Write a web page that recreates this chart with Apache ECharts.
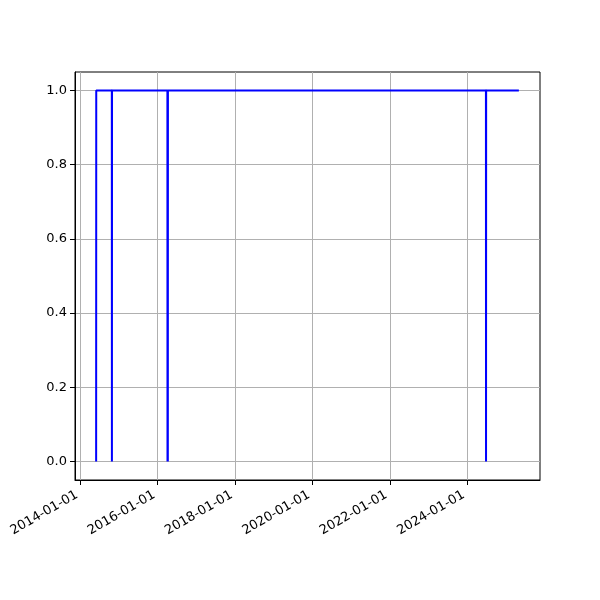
<!DOCTYPE html>
<html>
<head>
<meta charset="utf-8">
<script src="https://cdn.jsdelivr.net/npm/echarts@6/dist/echarts.min.js"></script>
<style>html,body{margin:0;padding:0;background:#fff}#c{width:600px;height:600px}</style>
</head>
<body>
<div id="c"></div>
<script>
var dates = ['2014-05-30','2014-05-31','2014-10-25','2014-10-26','2014-10-27',
             '2016-04-02','2016-04-03','2016-04-04','2016-04-06','2016-04-07',
             '2024-06-27','2024-06-28','2024-06-29','2025-05-04'];
var values = [0,1,1,0,1, 1,0,1,0,1, 1,0,1,1];
var xTicks = ['2014-01-01','2016-01-01','2018-01-01','2020-01-01','2022-01-01','2024-01-01'];
var yTicks = [0,0.2,0.4,0.6,0.8,1.0];

var data = dates.map(function(d,i){ return [new Date(d+'T00:00:00Z').getTime(), values[i]]; });
var xTickVals = xTicks.map(function(d){ return new Date(d+'T00:00:00Z').getTime(); });
var t0 = data[0][0], t1 = data[data.length-1][0], span = t1 - t0;

var chart = echarts.init(document.getElementById('c'));
var font = 'DejaVu Sans';
chart.setOption({
  animation: false,
  grid: {left: 75, right: 60, top: 72, bottom: 120, show: true, borderColor: '#000', borderWidth: 1, backgroundColor: '#fff'},
  xAxis: {
    type: 'value',
    min: t0 - span*0.05, max: t1 + span*0.05,
    axisLine: {show: true, onZero: false, lineStyle: {color: '#000', width: 1}},
    axisTick: {show: true, customValues: xTickVals, length: 5, lineStyle: {color: '#000'}},
    axisLabel: {
      customValues: xTickVals, rotate: 30, color: '#000', fontFamily: font, fontSize: 13, margin: 12,
      padding: [0, 4, 0, 0],
      formatter: function(v){ var d = new Date(v); var m = d.getUTCMonth()+1, dd = d.getUTCDate();
        return d.getUTCFullYear()+'-'+(m<10?'0':'')+m+'-'+(dd<10?'0':'')+dd; }
    },
    splitLine: {show: true, lineStyle: {color: '#b0b0b0', width: 1}}
  },
  yAxis: {
    type: 'value', min: -0.05, max: 1.05,
    axisLine: {show: true, lineStyle: {color: '#000', width: 1}},
    axisTick: {show: true, customValues: yTicks, length: 5, lineStyle: {color: '#000'}},
    axisLabel: {customValues: yTicks, color: '#000', fontFamily: font, fontSize: 13, margin: 8,
      formatter: function(v){ return v.toFixed(1); }},
    splitLine: {show: true, lineStyle: {color: '#b0b0b0', width: 1}}
  },
  series: [{
    type: 'line', data: data, showSymbol: false, symbol: 'none',
    lineStyle: {color: '#0000ff', width: 2}
  }]
});
</script>
</body>
</html>
